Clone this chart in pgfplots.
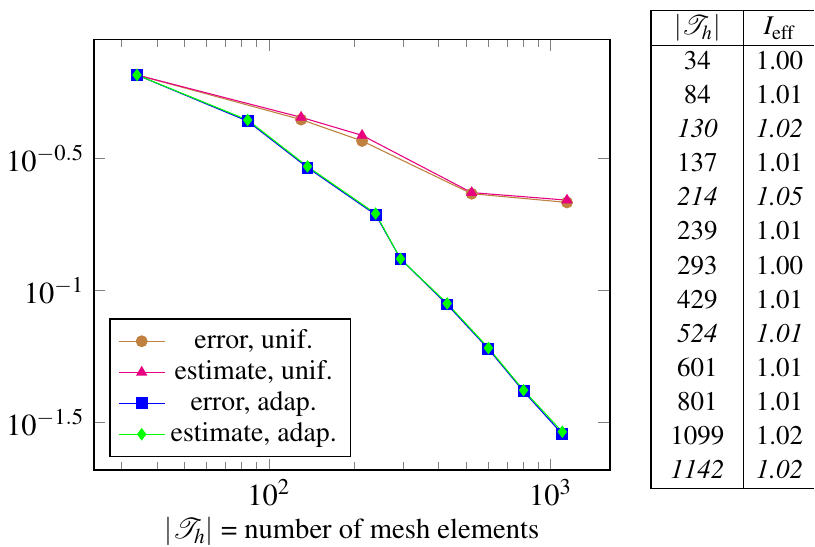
\documentclass[border=0pt]{standalone}
\usepackage[T1]{fontenc}
\usepackage{mathptmx}
\usepackage{pgfplots}
\pgfplotsset{compat=1.18}
\usepackage{array}

\definecolor{unifest}{RGB}{232,0,128}

\begin{document}
\begin{tikzpicture}
    \begin{loglogaxis}[
        name=main,
        at={(0,0)}, anchor=south west,
        scale only axis,
        width=191.1pt, height=159.6pt,
        ytick={0.316228,0.1,0.0316228},
        yticklabels={$10^{-0.5}$,$10^{-1}$,$10^{-1.5}$},
        tick label style={font=\fontsize{11.3}{13.5}\selectfont},
        xlabel={$|\mathcal{T}_h|$ = number of mesh elements},
        label style={font=\fontsize{10.6}{12.7}\selectfont},
        xlabel style={yshift=2.7pt},
        legend pos=south west,
        legend cell align=center,
        legend style={font=\fontsize{10.3}{12}\selectfont, row sep=-1pt},
        ]
        \addplot[color=brown, mark=*, mark options={fill=brown}] coordinates {
            (34, 0.6561)
            (130, 0.4446)
            (214, 0.3690)
            (524, 0.2328)
            (1142, 0.2158)
        };
        \addplot[color=unifest, mark=triangle*, mark options={fill=unifest}] coordinates {
            (34, 0.6561)
            (130, 0.4535)
            (214, 0.3875)
            (524, 0.2351)
            (1142, 0.2201)
        };
        \addplot[color=blue, mark=square*, mark options={fill=blue}] coordinates {
            (34, 0.6561)
            (84, 0.4385)
            (137, 0.2924)
            (239, 0.1939)
            (293, 0.1318)
            (429, 0.0885)
            (601, 0.0600)
            (801, 0.0415)
            (1099, 0.02858)
        };
        \addplot[color=green, mark=diamond*, mark options={fill=green}] coordinates {
            (34, 0.6561)
            (84, 0.4429)
            (137, 0.2953)
            (239, 0.1958)
            (293, 0.1318)
            (429, 0.0894)
            (601, 0.0606)
            (801, 0.0419)
            (1099, 0.02915)
        };
        \legend{error, unif.\\estimate, unif.\\error, adap.\\estimate, adap.\\}
    \end{loglogaxis}
    % table of efficiency indices
    \node[anchor=north west, inner sep=0pt] at (205.9pt,170.6pt) {%
        \renewcommand{\arraystretch}{1.05}%
        \begin{tabular}{|@{\hspace{7pt}}c@{\hspace{7pt}}|@{\hspace{4.2pt}}c@{\hspace{4.2pt}}}
            \hline
            $|\mathcal{T}_h|$ & $I_{\mathrm{eff}}$ \\
            \hline
            34 & 1.00 \\
            84 & 1.01 \\
            \textit{130} & \textit{1.02} \\
            137 & 1.01 \\
            \textit{214} & \textit{1.05} \\
            239 & 1.01 \\
            293 & 1.00 \\
            429 & 1.01 \\
            \textit{524} & \textit{1.01} \\
            601 & 1.01 \\
            801 & 1.01 \\
            1099 & 1.02 \\
            \textit{1142} & \textit{1.02} \\
            \hline
        \end{tabular}};
    \pgfresetboundingbox
    \path[use as bounding box] (-34.81pt,-28.52pt) rectangle (267.04pt,174.07pt);
\end{tikzpicture}
\end{document}
